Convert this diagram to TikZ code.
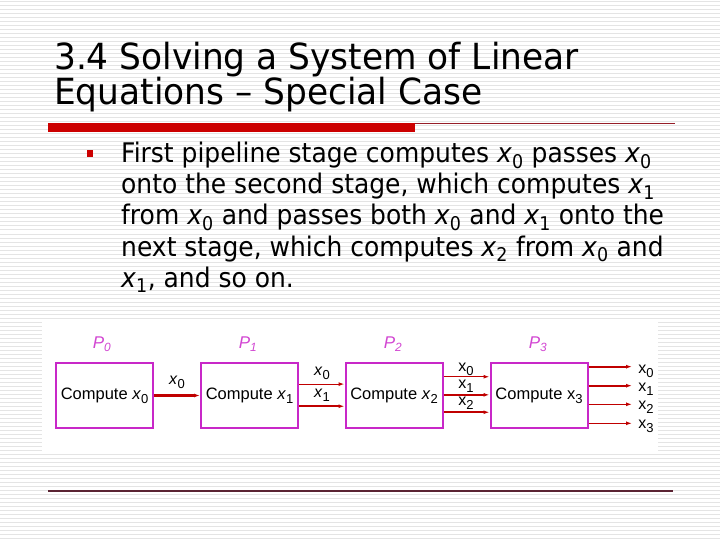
\documentclass[tikz,border=0pt]{standalone}
\usepackage{fontspec}
\setmainfont{DejaVu Sans}
\newfontfamily\titlefont{DejaVu Sans}[FakeStretch=0.955]
\newfontfamily\bodyfont{DejaVu Sans}[FakeStretch=0.925]
\newfontfamily\diagfont{Liberation Sans}
\usetikzlibrary{arrows.meta,calc}
\definecolor{stripe}{RGB}{228,228,228}
\definecolor{barred}{RGB}{204,0,0}
\definecolor{linered}{RGB}{150,30,40}
\definecolor{bottomline}{RGB}{90,35,50}
\definecolor{boxmag}{RGB}{200,40,200}
\definecolor{labmag}{RGB}{210,70,210}
\definecolor{arrred}{RGB}{192,0,0}
\newcommand{\vx}[1]{\textit{x}\textsubscript{#1}}
\newcommand{\ux}[1]{x\textsubscript{#1}}
\newcommand{\dsub}[1]{\raisebox{-0.25em}{\fontsize{13}{13}\selectfont #1}}
\newcommand{\dvx}[1]{\textit{x}\dsub{#1}}
\newcommand{\dux}[1]{x\dsub{#1}}
\tikzset{
  stripeline/.style={draw=stripe,line width=1pt},
  titletext/.style={anchor=base west,inner sep=0pt,font=\titlefont\fontsize{36}{36}\selectfont},
  bodytext/.style={anchor=base west,inner sep=0pt,font=\bodyfont\fontsize{27}{27}\selectfont},
  stagebox/.style={draw=boxmag,line width=2pt,minimum width=97pt,minimum height=65pt,inner sep=0pt,font=\diagfont\fontsize{16.5}{16.5}\selectfont},
  proclabel/.style={text=labmag,inner sep=0pt,font=\diagfont\itshape\fontsize{17}{17}\selectfont},
  varlabel/.style={inner sep=0pt,font=\diagfont\fontsize{16}{16}\selectfont},
  thinarr/.style={draw=arrred,line width=1.2pt,-{Latex[length=6pt,width=4pt]}},
  thickarr/.style={draw=arrred,line width=2.2pt,-{Latex[length=6pt,width=4pt]}},
}
\begin{document}
\begin{tikzpicture}[x=1pt,y=-1pt]
\useasboundingbox (0,0) rectangle (720,540);
\fill[white] (0,0) rectangle (720,540);
\foreach \yy in {2,6,...,538} \draw[stripeline] (0,\yy) -- (720,\yy);
% title
\node[titletext] (t1) at (54,70) {3.4 Solving a System of Linear};
\node[titletext] (t2) at (54,105) {Equations – Special Case};
% bars
\fill[barred] (48,123) rectangle (415,132);
\draw[linered,line width=1pt] (415,123.5) -- (675,123.5);
% bullet
\fill[barred] (87,150) rectangle (93,157);
% body
\node[bodytext] (l1) at (121,163) {First pipeline stage computes \vx{0} passes \vx{0}};
\node[bodytext] (l2) at (121,194) {onto the second stage, which computes \vx{1}};
\node[bodytext] (l3) at (121,225) {from \vx{0} and passes both \vx{0} and \vx{1} onto the};
\node[bodytext] (l4) at (121,256) {next stage, which computes \vx{2} from \vx{0} and};
\node[bodytext] (l5) at (121,287) {\vx{1}, and so on.};
% diagram background
\fill[white] (42,322) rectangle (658,451);
% boxes
\node[stagebox] (b0) at (104.5,395.5) {Compute \dvx{0}};
\node[stagebox] (b1) at (249.5,395.5) {Compute \dvx{1}};
\node[stagebox] (b2) at (394,395.5) {Compute \dvx{2}};
\node[stagebox] (b3) at (539,395.5) {Compute \dux{3}};
\node[proclabel] (p0) at (102,344) {P\textsubscript{0}};
\node[proclabel] (p1) at (248,344) {P\textsubscript{1}};
\node[proclabel] (p2) at (393,344) {P\textsubscript{2}};
\node[proclabel] (p3) at (538,344) {P\textsubscript{3}};
% arrows gap 1
\draw[thickarr] (b0.east) -- (b1.west);
\node[varlabel] (g1a) at (177,382) {\dvx{0}};
% gap 2
\draw[thinarr] ($(b1.north east)!0.33!(b1.south east)$) -- ($(b2.north west)!0.33!(b2.south west)$);
\draw[thickarr] ($(b1.north east)!0.66!(b1.south east)$) -- ($(b2.north west)!0.66!(b2.south west)$);
\node[varlabel] (g2a) at (322,373.5) {\dvx{0}};
\node[varlabel] (g2b) at (322,395.5) {\dvx{1}};
% gap 3
\draw[thinarr] ($(b2.north east)!0.22!(b2.south east)$) -- ($(b3.north west)!0.22!(b3.south west)$);
\draw[thickarr] ($(b2.north east)!0.49!(b2.south east)$) -- ($(b3.north west)!0.49!(b3.south west)$);
\draw[thickarr] ($(b2.north east)!0.75!(b2.south east)$) -- ($(b3.north west)!0.75!(b3.south west)$);
\node[varlabel] (g3a) at (466,369) {\dux{0}};
\node[varlabel] (g3b) at (466,386.5) {\dux{1}};
\node[varlabel] (g3c) at (466,403.5) {\dux{2}};
% outputs
\coordinate (o0) at (632,366.7);
\coordinate (o1) at (632,385.7);
\coordinate (o2) at (632,404.3);
\coordinate (o3) at (632,423.3);
\draw[thickarr] (b3.east |- o0) -- (o0);
\draw[thickarr] (b3.east |- o1) -- (o1);
\draw[thinarr] (b3.east |- o2) -- (o2);
\draw[thinarr] (b3.east |- o3) -- (o3);
\node[varlabel] (r0) at (646,371.5) {\dux{0}};
\node[varlabel] (r1) at (646,389.5) {\dux{1}};
\node[varlabel] (r2) at (646,407) {\dux{2}};
\node[varlabel] (r3) at (646,426) {\dux{3}};
% bottom line
\draw[bottomline,line width=1.5pt] (48,491) -- (673,491);
\end{tikzpicture}
\end{document}
